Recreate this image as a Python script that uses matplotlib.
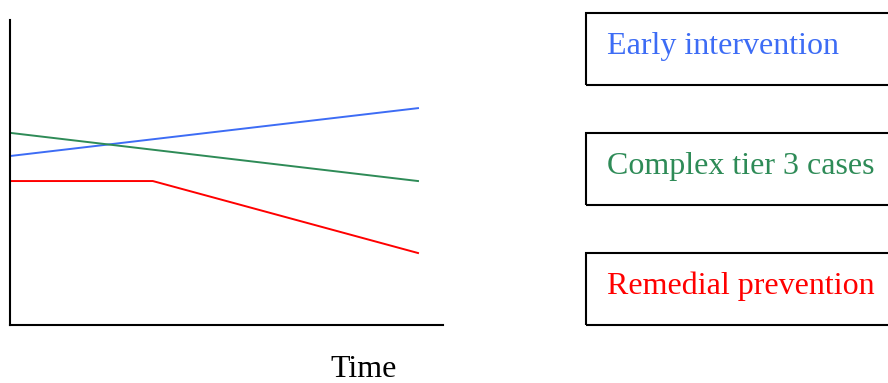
import matplotlib
matplotlib.use("Agg")
import matplotlib.pyplot as plt
from matplotlib.patches import Rectangle

# Schematic trends over time (arbitrary units, 0-10 scale)
t_blue = [0.0, 1.0]
early_intervention = [5.54, 7.11]

t_green = [0.0, 1.0]
complex_tier3 = [6.30, 4.72]

t_red = [0.0, 0.35, 1.0]
remedial_prevention = [4.72, 4.72, 2.36]

labels = ["Early intervention", "Complex tier 3 cases", "Remedial prevention"]
colors = ["#3d6cf5", "#2e8b57", "#ff0000"]

W, H = 888, 383
fig = plt.figure(figsize=(W / 100, H / 100), dpi=100)

ax = fig.add_axes([10 / W, (H - 325) / H, 433 / W, 305 / H])
ax.plot(t_blue, early_intervention, color=colors[0], lw=1.4)
ax.plot(t_green, complex_tier3, color=colors[1], lw=1.4)
ax.plot(t_red, remedial_prevention, color=colors[2], lw=1.4)
ax.set_xlim(0, 433 / 408)
ax.set_ylim(0, 10)
ax.spines["top"].set_visible(False)
ax.spines["right"].set_visible(False)
for s in ("left", "bottom"):
    ax.spines[s].set_linewidth(1.5)
    ax.spines[s].set_color("black")
ax.set_xticks([])
ax.set_yticks([])

fig.text(364 / W, 1 - 377 / H, "Time", ha="center", va="baseline",
         fontsize=23, family="Liberation Serif")

# legend boxes on the right
box_tops = [13, 133, 253]
for lab, col, top in zip(labels, colors, box_tops):
    fig.patches.append(Rectangle((586 / W, 1 - (top + 72) / H), 310 / W, 72 / H,
                                 transform=fig.transFigure, fill=False,
                                 edgecolor="black", lw=1.5))
    fig.text(607 / W, 1 - (top + 41) / H, lab, ha="left", va="baseline",
             color=col, fontsize=23, family="Liberation Serif")

fig.savefig("out.png", dpi=100)
